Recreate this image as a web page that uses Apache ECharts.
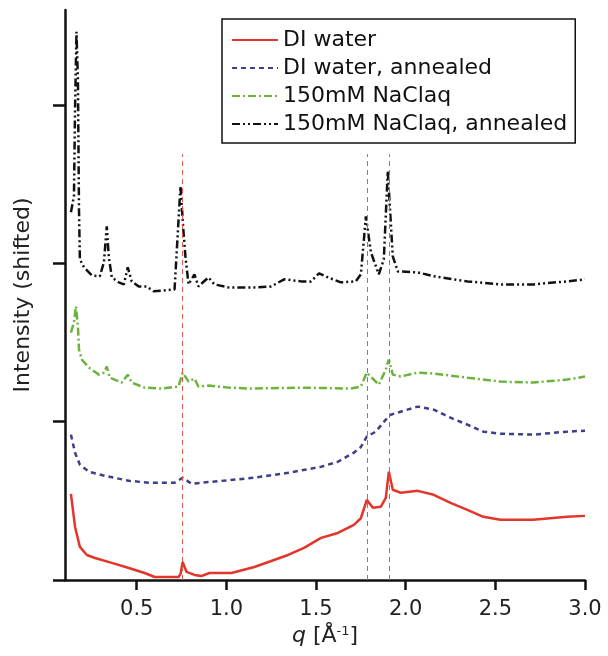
<!DOCTYPE html>
<html><head><meta charset="utf-8">
<script src="https://cdn.jsdelivr.net/npm/echarts@6/dist/echarts.min.js"></script>
<style>html,body{margin:0;padding:0;background:#fff}#c{width:608px;height:656px}</style>
</head><body><div id="c"></div>
<script>
const seriesNames = ['DI water', 'DI water, annealed', '150mM NaClaq', '150mM NaClaq, annealed'];
const xTicks = [0.5, 1.0, 1.5, 2.0, 2.5, 3.0];
const yTicks = [0, 1, 2, 3];
const refLines = [0.755, 1.783, 1.906];
const refTop = 2.69;

const diWaterQ = [0.133,0.156,0.183,0.222,0.267,0.361,0.456,0.544,0.6,0.733,0.745,0.756,0.778,0.822,0.861,0.906,0.972,1.028,1.156,1.344,1.433,1.528,1.622,1.711,1.75,1.783,1.817,1.861,1.889,1.906,1.928,1.972,2.067,2.156,2.25,2.344,2.433,2.528,2.711,2.9,3.0];
const diWaterI = [0.544,0.335,0.209,0.158,0.139,0.108,0.076,0.044,0.019,0.019,0.040,0.114,0.051,0.032,0.025,0.044,0.044,0.044,0.082,0.158,0.203,0.266,0.297,0.348,0.39,0.506,0.456,0.462,0.519,0.684,0.570,0.551,0.563,0.538,0.487,0.443,0.399,0.380,0.380,0.399,0.405];

const diAnnQ = [0.133,0.156,0.183,0.233,0.322,0.456,0.567,0.711,0.756,0.806,0.917,1.156,1.344,1.528,1.622,1.711,1.75,1.783,1.833,1.889,1.917,1.972,2.067,2.156,2.25,2.344,2.433,2.528,2.711,2.9,3.0];
const diAnnI = [0.918,0.804,0.728,0.684,0.658,0.627,0.614,0.614,0.646,0.608,0.620,0.646,0.677,0.715,0.747,0.804,0.840,0.905,0.937,1.013,1.044,1.063,1.095,1.076,1.025,0.981,0.937,0.924,0.918,0.937,0.943];

const naclQ = [0.133,0.15,0.161,0.172,0.178,0.194,0.233,0.289,0.317,0.333,0.35,0.417,0.45,0.472,0.544,0.639,0.733,0.756,0.789,0.822,0.844,0.9,1.011,1.139,1.417,1.694,1.75,1.783,1.85,1.889,1.906,1.928,1.972,2.067,2.156,2.344,2.528,2.711,2.9,3.0];
const naclI = [1.563,1.627,1.728,1.601,1.456,1.392,1.342,1.297,1.310,1.348,1.278,1.247,1.297,1.247,1.215,1.209,1.222,1.310,1.253,1.272,1.222,1.228,1.215,1.209,1.215,1.209,1.222,1.310,1.234,1.329,1.392,1.297,1.285,1.310,1.304,1.278,1.253,1.247,1.266,1.285];

const naclAnnQ = [0.133,0.15,0.156,0.164,0.172,0.178,0.183,0.206,0.25,0.294,0.317,0.333,0.344,0.361,0.4,0.428,0.45,0.472,0.511,0.556,0.594,0.711,0.744,0.761,0.772,0.789,0.822,0.844,0.9,0.933,1.011,1.156,1.25,1.322,1.417,1.472,1.517,1.567,1.639,1.722,1.75,1.778,1.806,1.85,1.878,1.9,1.928,1.956,2.067,2.156,2.344,2.528,2.711,2.9,3.0];
const naclAnnI = [2.323,2.424,2.975,3.462,3.165,2.342,2.025,1.975,1.924,1.918,2.006,2.234,2.044,1.911,1.880,1.867,1.975,1.886,1.854,1.854,1.823,1.835,2.487,2.196,2.038,1.867,1.930,1.854,1.911,1.867,1.848,1.848,1.854,1.899,1.886,1.886,1.937,1.911,1.880,1.886,1.930,2.297,2.070,1.930,2.025,2.582,2.044,1.949,1.943,1.918,1.886,1.867,1.867,1.886,1.899];

function pairs(xs, ys){ return xs.map((x,i)=>[x, ys[i]]); }

const chart = echarts.init(document.getElementById('c'));
const font = 'DejaVu Sans, Verdana, sans-serif';
chart.setOption({
  animation: false,
  backgroundColor: '#fff',
  grid: {left: 65, right: 23, top: 10, bottom: 76},
  legend: {
    data: seriesNames,
    orient: 'vertical',
    left: 222, top: 19,
    padding: [10, 8, 8, 9],
    itemGap: 6,
    itemWidth: 46, itemHeight: 12,
    backgroundColor: '#fff',
    borderColor: '#111', borderWidth: 1.5, borderRadius: 0,
    itemStyle: {opacity: 0},
    textStyle: {fontFamily: font, fontSize: 22, color: '#111'},
    selectedMode: false
  },
  xAxis: {
    type: 'value', min: 0.1, max: 3.0,
    name: '{i|q} [Å{s|-1}]',
    nameLocation: 'middle', nameGap: 40,
    nameTextStyle: {fontFamily: font, fontSize: 22, color: '#222',
      rich: {i: {fontFamily: font, fontSize: 22, fontStyle: 'italic', color: '#222'},
             s: {fontFamily: font, fontSize: 13, color: '#222', verticalAlign: 'bottom', padding:[0,0,9,0]}}},
    axisLine: {lineStyle: {color: '#111', width: 2.5}},
    axisTick: {length: 10, inside: false, customValues: xTicks, lineStyle: {color: '#111', width: 2.5}},
    axisLabel: {customValues: xTicks, margin: 19, fontFamily: font, fontSize: 21, color: '#222',
      formatter: v => v.toFixed(1)},
    splitLine: {show: false}
  },
  yAxis: {
    type: 'value', min: 0, max: 3.6,
    name: 'Intensity (shifted)',
    nameLocation: 'middle', nameGap: 31,
    nameTextStyle: {fontFamily: font, fontSize: 22, color: '#222'},
    axisLine: {show: true, lineStyle: {color: '#111', width: 2.5}},
    axisTick: {show: true, length: 12, inside: false, customValues: yTicks, lineStyle: {color: '#111', width: 2.5}},
    axisLabel: {show: false, customValues: yTicks},
    splitLine: {show: false}
  },
  series: [
    {name: seriesNames[0], type: 'line', showSymbol: false, symbol: 'none', data: pairs(diWaterQ, diWaterI),
     lineStyle: {color: '#e2362c', width: 2.5}, itemStyle: {color: '#e2362c'}},
    {name: seriesNames[1], type: 'line', showSymbol: false, symbol: 'none', data: pairs(diAnnQ, diAnnI),
     lineStyle: {color: '#3e3f88', width: 2.5, type: [5, 4]}, itemStyle: {color: '#3e3f88'}},
    {name: seriesNames[2], type: 'line', showSymbol: false, symbol: 'none', data: pairs(naclQ, naclI),
     lineStyle: {color: '#6cb33e', width: 2.5, type: [8, 3, 2, 3]}, itemStyle: {color: '#6cb33e'}},
    {name: seriesNames[3], type: 'line', showSymbol: false, symbol: 'none', data: pairs(naclAnnQ, naclAnnI),
     lineStyle: {color: '#111', width: 2.5, type: [8, 3, 2, 3, 2, 3]}, itemStyle: {color: '#111'}},
    {name: 'ref', type: 'line', data: [], silent: true,
     markLine: {silent: true, symbol: 'none', label: {show: false},
       lineStyle: {color: '#e05a4a', width: 1, type: [5, 4]},
       data: refLines.map(q => [{coord: [q, 0]}, {coord: [q, refTop]}])}}
  ]
});
</script></body></html>
